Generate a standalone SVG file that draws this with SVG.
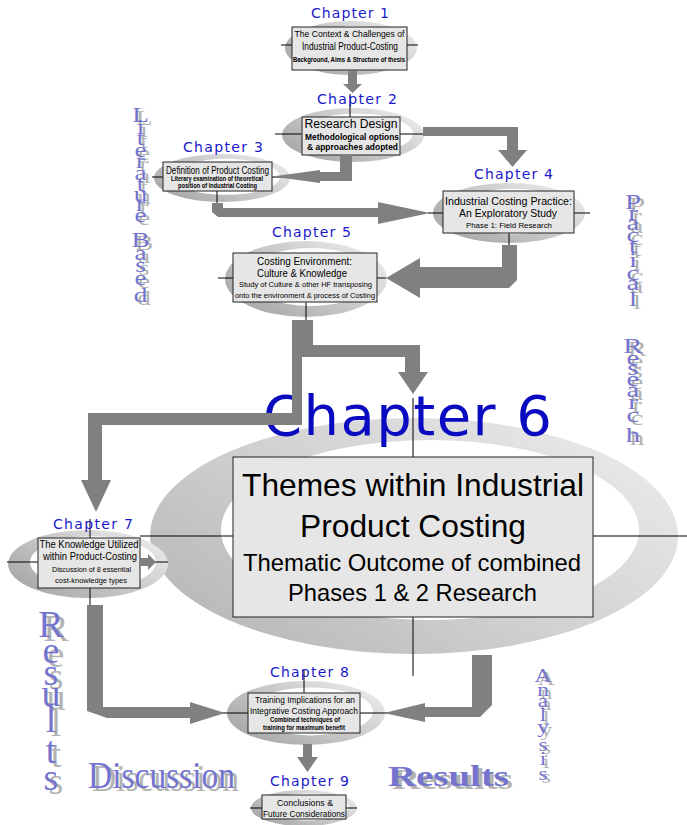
<svg xmlns="http://www.w3.org/2000/svg" width="687" height="825" viewBox="0 0 687 825">
<defs>
  <linearGradient id="ringShade" x1="0" y1="0.85" x2="1" y2="0.15">
    <stop offset="0" stop-color="#a4a4a4"/>
    <stop offset="0.55" stop-color="#cbcbcb"/>
    <stop offset="1" stop-color="#ededed"/>
  </linearGradient>
  <linearGradient id="ringShadeWide" x1="0" y1="0.85" x2="1" y2="0.15">
    <stop offset="0" stop-color="#b6b6b6"/>
    <stop offset="0.5" stop-color="#d2d2d2"/>
    <stop offset="1" stop-color="#ebebeb"/>
  </linearGradient>
  <style>
    .ring{fill:url(#ringShade)}
    .ringWide{fill:url(#ringShadeWide)}
    .hole{fill:#fff}
    .axis{stroke:#000;stroke-width:1;fill:none}
    .box{fill:#e6e6e6;stroke:#222;stroke-width:1}
    .chap{font-family:"DejaVu Sans",Verdana,sans-serif;font-size:14px;fill:#1a1acc;text-anchor:middle}
    .t{font-family:"Liberation Sans",Arial,sans-serif;text-anchor:middle;fill:#000}
    .b{font-weight:bold}
    .flow{fill:#808080}
    .wa{font-family:"Liberation Serif","Times New Roman",serif;text-anchor:middle}
    .was{font-family:"Liberation Serif","Times New Roman",serif;text-anchor:start}
    .sh{fill:#b3b3b3}
    .fg{fill:#7474cf}
  </style>
  <!-- stacked side captions, drawn twice (shadow + face) via <use> -->
  <text id="wLit" class="wa" font-size="21" x="0 0 0 0 0 0 0 0 0 0 0 0 0 0 0 0" y="122 134 145 157 168 180 191 201 211 222 234 247 260 272 285 302">Literature Based</text>
  <text id="wPrac" class="wa" font-size="20" x="0 0 0 0 0 0 0 0 0 0 0 0 0 0 0 0 0 0" y="209 220 230 242 253 267 280 290 306 330 353 365 375 386 397 409 422 442">Practical Research</text>
  <text id="wAna" class="wa" font-size="18" x="0 0 0 0 0 0 0 0" y="682 696 707 721 733 751 765 780">Analysis</text>
  <text id="wResV" class="wa" font-size="38" x="0 0 0 0 0 0 0" y="637 663 685 706 732 763 790">Results</text>
  <text id="wDisc" class="was" font-size="37" x="88" y="788" textLength="147" lengthAdjust="spacingAndGlyphs">Discussion</text>
  <text id="wResH" class="was" font-size="30" font-weight="bold" x="388" y="786" textLength="121" lengthAdjust="spacingAndGlyphs">Results</text>
</defs>

<rect width="687" height="825" fill="#fff"/>

<!-- side captions -->
<g id="captions">
  <g transform="translate(140.5,0) scale(1.3,1)"><use href="#wLit" class="sh" x="2.7" y="3"/><use href="#wLit" class="fg"/></g>
  <g transform="translate(633,0) scale(1.45,1)"><use href="#wPrac" class="sh" x="2.8" y="3"/><use href="#wPrac" class="fg"/></g>
  <g transform="translate(543,0) scale(1.3,1)"><use href="#wAna" class="sh" x="2.5" y="3"/><use href="#wAna" class="fg"/></g>
  <g transform="translate(51,0)"><use href="#wResV" class="sh" x="5" y="4"/><use href="#wResV" class="fg"/></g>
  <use href="#wDisc" class="sh" x="4" y="3"/><use href="#wDisc" class="fg"/>
  <use href="#wResH" class="sh" x="4" y="3"/><use href="#wResH" class="fg"/>
</g>

<g id="nodes">
  <g id="ch1">
    <ellipse class="ring" cx="351" cy="48" rx="66" ry="27"/>
    <ellipse class="hole" cx="355" cy="46.6" rx="52" ry="20.5"/>
    <path class="axis" d="M281 45H418"/>
    <rect class="box" x="292" y="27" width="115" height="43" stroke-width="1.3"/>
    <text class="chap" x="350" y="18" textLength="78">Chapter 1</text>
    <text class="t" x="349.5" y="36.5" font-size="9.5" textLength="110" lengthAdjust="spacingAndGlyphs">The Context &amp; Challenges of</text>
    <text class="t" x="350" y="49.5" font-size="11" textLength="96" lengthAdjust="spacingAndGlyphs">Industrial Product-Costing</text>
    <text class="t b" x="349" y="61.5" font-size="8" textLength="112" lengthAdjust="spacingAndGlyphs">Background, Aims &amp; Structure of thesis</text>
  </g>

  <g id="ch2">
    <ellipse class="ring" cx="353" cy="135" rx="71" ry="27"/>
    <ellipse class="hole" cx="357" cy="133.6" rx="56" ry="20"/>
    <path class="axis" d="M275 134H424M350 94V117"/>
    <rect class="box" x="302" y="117" width="98" height="38"/>
    <text class="chap" x="357" y="104" textLength="80">Chapter 2</text>
    <text class="t" x="351" y="128" font-size="12" textLength="93" lengthAdjust="spacingAndGlyphs">Research Design</text>
    <text class="t b" x="352" y="139.5" font-size="8.5" textLength="94" lengthAdjust="spacingAndGlyphs">Methodological options</text>
    <text class="t b" x="352.5" y="149.5" font-size="8.5" textLength="91" lengthAdjust="spacingAndGlyphs">&amp; approaches adopted</text>
  </g>

  <g id="ch3">
    <ellipse class="ring" cx="222" cy="178" rx="68" ry="24"/>
    <ellipse class="hole" cx="226" cy="176.8" rx="54" ry="18"/>
    <path class="axis" d="M152 177H296M217 190V204"/>
    <rect class="box" x="163" y="162" width="109" height="29"/>
    <text class="chap" x="223" y="152" textLength="80">Chapter 3</text>
    <text class="t" x="217.5" y="173.5" font-size="10" textLength="103" lengthAdjust="spacingAndGlyphs">Definition of Product Costing</text>
    <text class="t b" x="217" y="181.2" font-size="6.8" textLength="92" lengthAdjust="spacingAndGlyphs">Literary examination of theoretical</text>
    <text class="t b" x="217.5" y="188.3" font-size="6.8" textLength="79" lengthAdjust="spacingAndGlyphs">position of Industrial Costing</text>
  </g>

  <g id="ch4">
    <ellipse class="ring" cx="509" cy="213" rx="76" ry="30"/>
    <ellipse class="hole" cx="514" cy="211.5" rx="60" ry="22.8"/>
    <path class="axis" d="M428 213H590M509 233V246"/>
    <rect class="box" x="443" y="191" width="131" height="42"/>
    <text class="chap" x="513.5" y="179" textLength="79">Chapter 4</text>
    <text class="t" x="508.5" y="205" font-size="11.5" textLength="127" lengthAdjust="spacingAndGlyphs">Industrial Costing Practice:</text>
    <text class="t" x="508" y="217" font-size="11.5" textLength="98" lengthAdjust="spacingAndGlyphs">An Exploratory Study</text>
    <text class="t" x="509" y="227.5" font-size="8" textLength="86" lengthAdjust="spacingAndGlyphs">Phase 1: Field Research</text>
  </g>

  <g id="ch5">
    <ellipse class="ring" cx="306" cy="279" rx="81" ry="38"/>
    <ellipse class="hole" cx="311" cy="277" rx="64" ry="29"/>
    <path class="axis" d="M218 278H386M306 302V320"/>
    <rect class="box" x="233" y="253" width="144" height="49"/>
    <text class="chap" x="311.5" y="237" textLength="79">Chapter 5</text>
    <text class="t" x="304.5" y="264.5" font-size="10.5" textLength="95" lengthAdjust="spacingAndGlyphs">Costing Environment:</text>
    <text class="t" x="302" y="277" font-size="10.5" textLength="90" lengthAdjust="spacingAndGlyphs">Culture &amp; Knowledge</text>
    <text class="t" x="305.5" y="287" font-size="7.5" textLength="133" lengthAdjust="spacingAndGlyphs">Study of Culture &amp; other HF transposing</text>
    <text class="t" x="305" y="298" font-size="7.5" textLength="140" lengthAdjust="spacingAndGlyphs">onto the environment &amp; process of Costing</text>
  </g>

  <g id="ch6">
    <ellipse class="ringWide" cx="414" cy="536" rx="264" ry="118"/>
    <ellipse class="hole" cx="430" cy="530" rx="209" ry="90"/>
    <path class="axis" d="M140 536H687M413 398V457M413 617V676"/>
    <rect class="box" x="233" y="457" width="360" height="160"/>
    <text class="chap" x="407.5" y="435" style="font-size:56px;fill:#0a0ac0" textLength="289">Chapter 6</text>
    <text class="t" x="413" y="496" font-size="32" textLength="342" lengthAdjust="spacingAndGlyphs">Themes within Industrial</text>
    <text class="t" x="413" y="537" font-size="32" textLength="226" lengthAdjust="spacingAndGlyphs">Product Costing</text>
    <text class="t" x="412" y="571" font-size="24" textLength="338" lengthAdjust="spacingAndGlyphs">Thematic Outcome of combined</text>
    <text class="t" x="412.5" y="601" font-size="24" textLength="249" lengthAdjust="spacingAndGlyphs">Phases 1 &amp; 2 Research</text>
  </g>

  <g id="ch7">
    <ellipse class="ring" cx="88" cy="564" rx="80" ry="34"/>
    <ellipse class="hole" cx="93" cy="562.3" rx="63" ry="26"/>
    <path class="axis" d="M7 562H168M90 519V538M90 588V606"/>
    <rect class="box" x="38" y="538" width="102" height="50"/>
    <text class="chap" x="93" y="529" textLength="80">Chapter 7</text>
    <text class="t" x="89" y="548" font-size="10.5" textLength="99" lengthAdjust="spacingAndGlyphs">The Knowledge Utilized</text>
    <text class="t" x="90" y="560" font-size="11" textLength="94" lengthAdjust="spacingAndGlyphs">within Product-Costing</text>
    <text class="t" x="91.5" y="572" font-size="8" textLength="79" lengthAdjust="spacingAndGlyphs">Discussion of 8 essential</text>
    <text class="t" x="91" y="583" font-size="8" textLength="72" lengthAdjust="spacingAndGlyphs">cost-knowledge types</text>
  </g>

  <g id="ch8">
    <ellipse class="ring" cx="306" cy="713" rx="79" ry="32"/>
    <ellipse class="hole" cx="311" cy="711.4" rx="62" ry="24"/>
    <path class="axis" d="M220 713H388M304 670V693"/>
    <rect class="box" x="248" y="693" width="112" height="40"/>
    <text class="chap" x="309.5" y="677" textLength="79">Chapter 8</text>
    <text class="t" x="305" y="703" font-size="9.5" textLength="100" lengthAdjust="spacingAndGlyphs">Training Implications for an</text>
    <text class="t" x="304" y="713.5" font-size="9.5" textLength="108" lengthAdjust="spacingAndGlyphs">Integrative Costing Approach</text>
    <text class="t b" x="305" y="722" font-size="7" textLength="70" lengthAdjust="spacingAndGlyphs">Combined techniques of</text>
    <text class="t b" x="304" y="729.5" font-size="7" textLength="82" lengthAdjust="spacingAndGlyphs">training for maximum benefit</text>
  </g>

  <g id="ch9">
    <ellipse class="ring" cx="304" cy="808" rx="53" ry="18"/>
    <ellipse class="hole" cx="307" cy="807" rx="42" ry="13.5"/>
    <path class="axis" d="M250 808H357"/>
    <rect class="box" x="262" y="795" width="84" height="24"/>
    <text class="chap" x="309.5" y="786" textLength="79">Chapter 9</text>
    <text class="t" x="305" y="805.5" font-size="9" textLength="56" lengthAdjust="spacingAndGlyphs">Conclusions &amp;</text>
    <text class="t" x="304" y="816.5" font-size="9" textLength="82" lengthAdjust="spacingAndGlyphs">Future Considerations</text>
  </g>
</g>

<!-- block arrows between chapters -->
<g id="connectors" class="flow">
  <polygon id="c1-2" points="348,71 357,71 357,84 362,84 352.5,93 343,84 348,84"/>
  <polygon id="c2-4" points="423,127 518,127 518,150 527,150 512.5,167 498,150 507,150 507,136 423,136"/>
  <polygon id="c2-3" points="340,155 352,155 352,181 320,181 320,183 272,176.5 320,170 320,172 340,172"/>
  <polygon id="c3-4" points="212,203 223,203 223,208 378,208 378,202 430,213 378,224 378,217 218,217 212,212"/>
  <polygon id="c4-5" points="502,245 517,245 517,280 509,288 420,288 420,298 386,278 420,258 420,267 502,267"/>
  <polygon id="c5-6-7" points="292,320 313,320 313,345 420,345 420,372 428,372 413,394 398,372 405,372 405,357 302,357 302,425 102,425 102,480 111,480 96,512 81,480 88,480 88,413 292,413"/>
  <polygon id="c7-6" points="140,558 148,558 148,554 156,562 148,570 148,566 140,566"/>
  <polygon id="c7-8" points="87,605 103,605 103,707 190,707 190,702 225,713 190,724 190,718 107,718 87,711"/>
  <polygon id="c6-8" points="472,655 492,655 492,705 480,717 425,717 425,722 384,713 425,703 425,707 472,707"/>
  <polygon id="c8-9" points="303,744 312,744 312,757 318,757 307.5,772 297,757 303,757"/>
</g>
</svg>
